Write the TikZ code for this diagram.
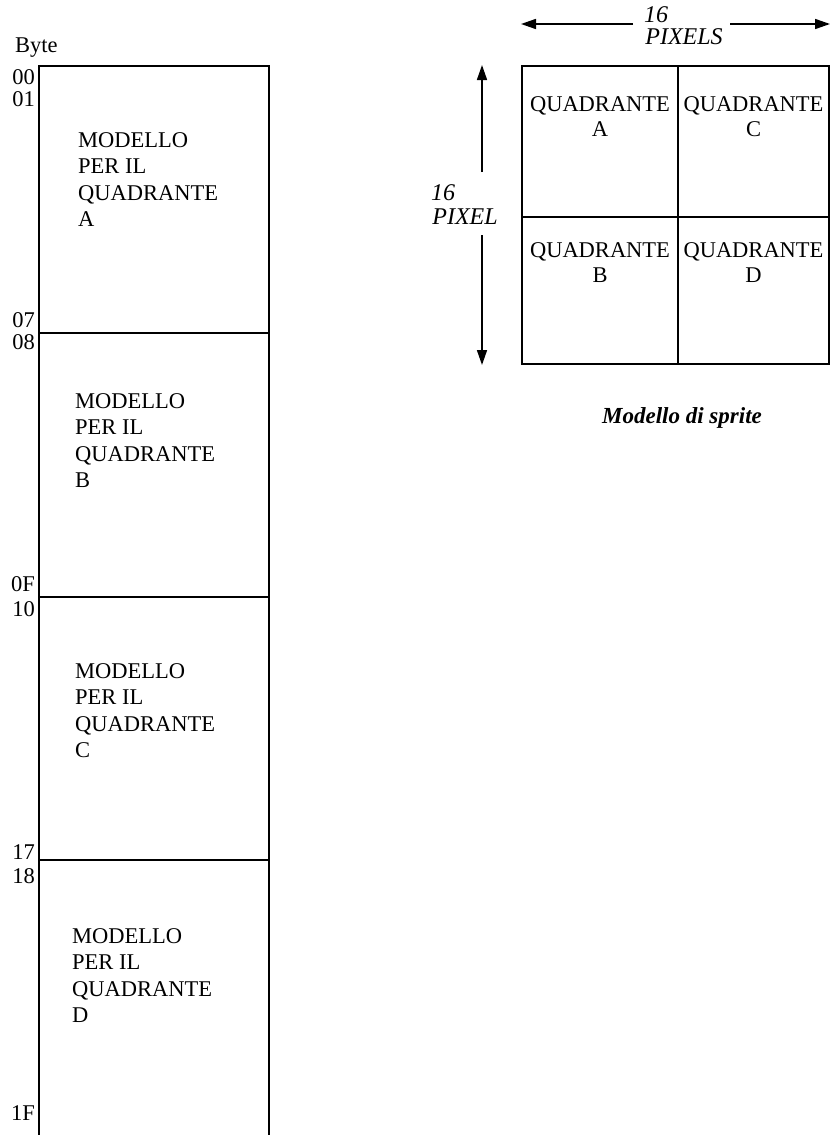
\documentclass[tikz,border=0pt]{standalone}
\usepackage{fontspec}
\setmainfont{Liberation Serif}
\usepackage{tikz}
\usetikzlibrary{arrows.meta,positioning}
\newcommand{\bigtxt}{\fontsize{22.5}{26.5}\selectfont}

\begin{document}
\begin{tikzpicture}[x=1pt, y=-1pt,
  seg/.style={draw, line width=2pt, anchor=north west, inner sep=0, minimum width=230pt},
  quad/.style={draw, line width=2pt, anchor=north west, inner sep=0},
  blk/.style={anchor=north west, inner sep=0, align=left, font=\bigtxt},
  qtxt/.style={inner sep=0, align=center, font=\fontsize{22.5}{25}\selectfont},
  addr/.style={anchor=east, inner sep=0, font=\bigtxt},
  dim/.style={line width=1.6pt, -{Triangle[length=15pt,width=10pt]}},
  dimtxt/.style={inner sep=0, font=\fontsize{24}{26}\selectfont\itshape}
]
\useasboundingbox (0,0) rectangle (836,1135);
% memory column
\node[anchor=base west, inner sep=0, font=\bigtxt] (byte) at (15,52) {Byte};
\node[seg, minimum height=267pt] (segA) at (38,65) {};
\node[seg, minimum height=264pt] (segB) at (38,332) {};
\node[seg, minimum height=263pt] (segC) at (38,596) {};
\node[seg, minimum height=290pt] (segD) at (38,859) {};
\node[blk] (ma) at ([xshift=40pt,yshift=-67pt]segA.north west) {MODELLO\\PER IL\\QUADRANTE\\A};
\node[blk] (mb) at ([xshift=37pt,yshift=-61pt]segB.north west) {MODELLO\\PER IL\\QUADRANTE\\B};
\node[blk] (mc) at ([xshift=37pt,yshift=-67pt]segC.north west) {MODELLO\\PER IL\\QUADRANTE\\C};
\node[blk] (md) at ([xshift=34pt,yshift=-69pt]segD.north west) {MODELLO\\PER IL\\QUADRANTE\\D};
\foreach \lab/\yy in {00/77,01/99,07/320,08/342,0F/584,10/609,17/852,18/876,1F/1113}
  \node[addr] (b\lab) at (35,\yy) {\lab};

% sprite grid
\node[quad, minimum width=156pt, minimum height=151pt] (qa) at (521,65) {};
\node[quad, minimum width=151pt, minimum height=151pt] (qc) at (677,65) {};
\node[quad, minimum width=156pt, minimum height=147pt] (qb) at (521,216) {};
\node[quad, minimum width=151pt, minimum height=147pt] (qd) at (677,216) {};
\node[qtxt, below=31pt of qa.north] (ta) {QUADRANTE\\A};
\node[qtxt, below=31pt of qc.north] (tc) {QUADRANTE\\C};
\node[qtxt, below=26pt of qb.north] (tb) {QUADRANTE\\B};
\node[qtxt, below=26pt of qd.north] (td) {QUADRANTE\\D};

% dimensions
\node[dimtxt] (w16) at (656,15) {16};
\node[dimtxt] (wpx) at (684,37) {PIXELS};
\node[dimtxt] (h16) at (443,193) {16};
\node[dimtxt] (hpx) at (465,217) {PIXEL};
\coordinate (wl) at (633,24);
\coordinate (wr) at (730,24);
\coordinate (ht) at (482,172);
\coordinate (hb) at (482,235);
\draw[dim] (wl) -- (qa.north west |- wl);
\draw[dim] (wr) -- (qc.north east |- wr);
\draw[dim] (ht) -- (ht |- qa.north west);
\draw[dim] (hb) -- (hb |- qb.south west);

\node[anchor=base, inner sep=0, font=\fontsize{23}{26}\selectfont\bfseries\itshape] (cap) at (682,423) {Modello di sprite};
\end{tikzpicture}
\end{document}
